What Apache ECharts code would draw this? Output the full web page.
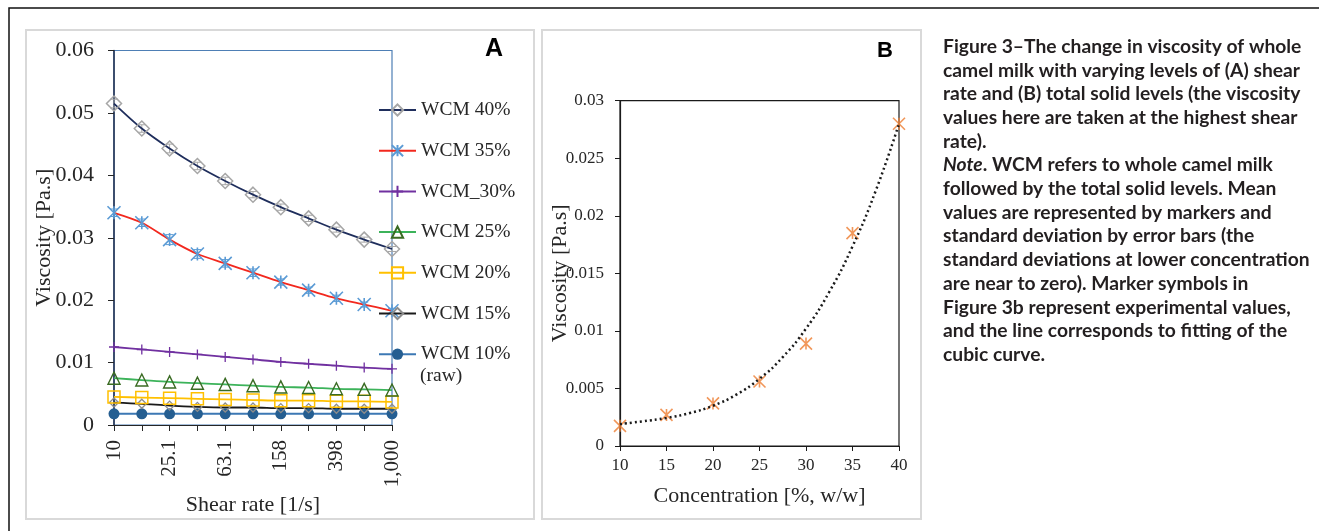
<!DOCTYPE html>
<html><head><meta charset="utf-8">
<script src="https://cdn.jsdelivr.net/npm/echarts@6/dist/echarts.min.js"></script>
<style>html,body{margin:0;padding:0;background:#fff}#c{width:1319px;height:531px}</style>
</head><body><div id="c"></div>
<script>
// ---------- Panel A data ----------
const shearRates = ['10','15.8','25.1','39.8','63.1','100','158','251','398','631','1,000'];
const wcm40 = [0.0515, 0.0475, 0.0443, 0.0415, 0.0391, 0.0369, 0.0349, 0.0331, 0.0313, 0.0297, 0.0282];
const wcm35 = [0.0340, 0.0324, 0.0297, 0.0274, 0.0259, 0.0244, 0.0229, 0.0216, 0.0203, 0.0193, 0.0183];
const wcm30 = [0.0125, 0.0121, 0.0117, 0.0113, 0.0109, 0.0105, 0.0101, 0.0098, 0.0095, 0.0092, 0.0090];
const wcm25 = [0.0075, 0.0072, 0.0069, 0.0067, 0.0065, 0.0063, 0.0061, 0.0060, 0.0058, 0.0057, 0.0056];
const wcm20 = [0.0045, 0.0044, 0.0043, 0.0042, 0.0041, 0.0040, 0.0039, 0.0039, 0.0038, 0.0038, 0.0037];
const wcm15 = [0.0036, 0.0034, 0.0031, 0.0029, 0.0028, 0.0028, 0.0027, 0.0027, 0.0026, 0.0026, 0.0026];
const wcm10 = [0.0018, 0.0018, 0.0018, 0.0018, 0.0018, 0.0018, 0.0018, 0.0018, 0.0018, 0.0018, 0.0018];
const sd40 = [0.0007, 0.0006, 0.0007, 0.0006, 0.0006, 0.0005, 0.0005, 0.0005, 0.0004, 0.0004, 0.0004];
const sd35 = [0.0006, 0.0006, 0.0008, 0.0007, 0.0006, 0.0006, 0.0005, 0.0005, 0.0005, 0.0004, 0.0004];
const seriesNamesA = ['WCM 40%', 'WCM 35%', 'WCM_30%', 'WCM 25%', 'WCM 20%', 'WCM 15%', 'WCM 10%'];
const yTicksA = { min: 0, max: 0.06, step: 0.01 };

// ---------- Panel B data ----------
const concentration = [10, 15, 20, 25, 30, 35, 40];
const viscosityB = [0.00175, 0.0027, 0.0037, 0.0056, 0.0089, 0.0185, 0.0280];
const fitConc = [10, 12.5, 15, 17.5, 20, 22.5, 25, 27.5, 30, 32.5, 35, 37.5, 40];
const fitVisc = [0.00190, 0.00215, 0.00244, 0.00286, 0.00350, 0.00446, 0.00584, 0.00772, 0.01020, 0.01338, 0.01734, 0.02218, 0.02800];

// ---------- Caption ----------
const captionLines = [
  'Figure 3\u2013The change in viscosity of whole',
  'camel milk with varying levels of (A) shear',
  'rate and (B) total solid levels (the viscosity',
  'values here are taken at the highest shear',
  'rate).',
  '{i|Note}. WCM refers to whole camel milk',
  'followed by the total solid levels. Mean',
  'values are represented by markers and',
  'standard deviation by error bars (the',
  'standard deviations at lower concentration',
  'are near to zero). Marker symbols in',
  'Figure 3b represent experimental values,',
  'and the line corresponds to fitting of the',
  'cubic curve.'
];

const serif = 'Liberation Serif, Times New Roman, serif';
const capFamily = 'Lato, "Noto Sans", sans-serif';
const capSize = 18.5;
const textCol = '#262626';
const ASTER = 'path://M0,0L12,12M12,0L0,12M6,0L6,12';
const PLUS = 'path://M6,0L6,12M0,6L12,6';

// horizontal squeeze so caption lines match the reference's condensed face
const measureCtx = document.createElement('canvas').getContext('2d');
measureCtx.font = 'bold ' + capSize + 'px ' + capFamily;
const capScaleX = 357 / measureCtx.measureText(captionLines[1]).width;

function lineSeries(name, data, lineColor, symbol, size, itemStyle) {
  return {
    name, type: 'line', xAxisIndex: 0, yAxisIndex: 0, data,
    symbol, symbolSize: size, showSymbol: true, smooth: 0.3,
    lineStyle: { color: lineColor, width: 1.8 },
    itemStyle, emphasis: { disabled: true }
  };
}
function errSeries(means, sds, color) {
  return {
    type: 'custom', xAxisIndex: 0, yAxisIndex: 0, z: 3,
    data: means.map((m, i) => [i, m, sds[i]]),
    encode: { x: 0, y: 1 },
    renderItem: function (params, api) {
      const x = api.value(0), m = api.value(1), s = api.value(2);
      const hi = api.coord([x, m + s]), lo = api.coord([x, m - s]);
      const w = 4, st = { stroke: color, lineWidth: 1 };
      return { type: 'group', children: [
        { type: 'line', shape: { x1: hi[0], y1: hi[1], x2: lo[0], y2: lo[1] }, style: st },
        { type: 'line', shape: { x1: hi[0] - w, y1: hi[1], x2: hi[0] + w, y2: hi[1] }, style: st },
        { type: 'line', shape: { x1: lo[0] - w, y1: lo[1], x2: lo[0] + w, y2: lo[1] }, style: st }
      ]};
    }
  };
}

const chart = echarts.init(document.getElementById('c'), null, { renderer: 'canvas' });
const option = {
  animation: false,
  backgroundColor: '#fff',
  textStyle: { fontFamily: serif },
  graphic: [
    { type: 'rect', z: -10, shape: { x: 9, y: 8, width: 1400, height: 600 }, style: { fill: 'none', stroke: '#111', lineWidth: 1.5 } },
    { type: 'rect', z: -9, shape: { x: 26, y: 30, width: 508, height: 489 }, style: { fill: 'none', stroke: '#D9D9D9', lineWidth: 2 } },
    { type: 'rect', z: -9, shape: { x: 542, y: 30, width: 379, height: 489 }, style: { fill: 'none', stroke: '#D9D9D9', lineWidth: 2 } },
    { type: 'text', x: 494, y: 49, style: { text: 'A', font: 'bold 25px Liberation Sans, Arial, sans-serif', fill: '#000', align: 'center', verticalAlign: 'middle' } },
    { type: 'text', x: 885, y: 50.5, style: { text: 'B', font: 'bold 22px Liberation Sans, Arial, sans-serif', fill: '#000', align: 'center', verticalAlign: 'middle' } },
    { type: 'text', x: 420, y: 376, style: { text: '(raw)', font: '19.5px ' + serif, fill: textCol, align: 'left', verticalAlign: 'middle' } },
    { type: 'text', x: 943, y: 35, scaleX: capScaleX, style: {
        text: captionLines.join('\n'),
        font: 'bold ' + capSize + 'px ' + capFamily,
        fill: '#231F20', lineHeight: 23.7,
        rich: { i: { fontStyle: 'italic', fontWeight: 'bold', fontSize: capSize, fontFamily: capFamily, lineHeight: 23.7, fill: '#231F20' } }
    } }
  ],
  legend: {
    data: seriesNamesA,
    orient: 'vertical', left: 378, top: 98, padding: 0,
    itemWidth: 37, itemHeight: 14, itemGap: 16.7,
    textStyle: { fontFamily: serif, fontSize: 19.5, color: textCol, lineHeight: 24 },
    selectedMode: false
  },
  grid: [
    { left: 114, top: 50.5, width: 278, height: 374.5, show: true, borderColor: '#4E7FB5', borderWidth: 1.2, backgroundColor: 'transparent' },
    { left: 620, top: 100.7, width: 279, height: 345.3, show: true, borderColor: '#1a1a1a', borderWidth: 1.2, backgroundColor: 'transparent' }
  ],
  xAxis: [
    { type: 'category', gridIndex: 0, data: shearRates, boundaryGap: false,
      axisLine: { show: true, lineStyle: { color: '#262626', width: 1.2 } },
      axisTick: { show: true, interval: 0, length: 6, lineStyle: { color: '#262626' } },
      axisLabel: { interval: 1, rotate: 90, margin: 15, fontSize: 21, color: textCol, fontFamily: serif },
      splitLine: { show: false },
      name: 'Shear rate [1/s]', nameLocation: 'middle', nameGap: 69, nameMoveOverlap: false,
      nameTextStyle: { fontSize: 22, color: textCol, fontFamily: serif } },
    { type: 'value', gridIndex: 1, min: 10, max: 40, interval: 5,
      axisLine: { show: true, lineStyle: { color: '#1a1a1a', width: 1.2 } },
      axisTick: { show: true, length: 5, lineStyle: { color: '#1a1a1a' } },
      axisLabel: { margin: 11, fontSize: 17, color: textCol, fontFamily: serif },
      splitLine: { show: false },
      name: 'Concentration [%, w/w]', nameLocation: 'middle', nameGap: 39, nameMoveOverlap: false,
      nameTextStyle: { fontSize: 22, color: textCol, fontFamily: serif } }
  ],
  yAxis: [
    { type: 'value', gridIndex: 0, min: yTicksA.min, max: yTicksA.max, interval: yTicksA.step,
      axisLine: { show: true, lineStyle: { color: '#1F2D4D', width: 1.5 } },
      axisTick: { show: true, length: 6, lineStyle: { color: '#262626' } },
      axisLabel: { margin: 20, fontSize: 22, color: textCol, fontFamily: serif },
      splitLine: { show: false },
      name: 'Viscosity [Pa.s]', nameLocation: 'middle', nameGap: 59, nameMoveOverlap: false,
      nameTextStyle: { fontSize: 22, color: textCol, fontFamily: serif } },
    { type: 'value', gridIndex: 1, min: 0, max: 0.03, interval: 0.005,
      axisLine: { show: true, lineStyle: { color: '#1a1a1a', width: 1.2 } },
      axisTick: { show: true, length: 5, lineStyle: { color: '#1a1a1a' } },
      axisLabel: { margin: 16, fontSize: 17, color: textCol, fontFamily: serif },
      splitLine: { show: false },
      name: 'Viscosity [Pa.s]', nameLocation: 'middle', nameGap: 49, nameMoveOverlap: false,
      nameTextStyle: { fontSize: 22, color: textCol, fontFamily: serif } }
  ],
  series: [
    lineSeries('WCM 10%', wcm10, '#3C78B4', 'circle', 11, { color: '#255E91' }),
    lineSeries('WCM 15%', wcm15, '#1A1A1A', 'diamond', 9, { color: 'rgba(255,255,255,0)', borderColor: '#8C8C8C', borderWidth: 1.3 }),
    lineSeries('WCM 20%', wcm20, '#FFC000', 'rect', 12, { color: 'rgba(255,255,255,0)', borderColor: '#FFC000', borderWidth: 1.5 }),
    lineSeries('WCM 25%', wcm25, '#3CB35A', 'triangle', 12, { color: 'rgba(255,255,255,0)', borderColor: '#3A6B23', borderWidth: 1.4 }),
    lineSeries('WCM_30%', wcm30, '#7030A0', PLUS, 10, { color: 'rgba(255,255,255,0)', borderColor: '#7030A0', borderWidth: 1.3 }),
    errSeries(wcm35, sd35, '#5B9BD5'),
    lineSeries('WCM 35%', wcm35, '#F2281E', ASTER, 13, { color: 'rgba(255,255,255,0)', borderColor: '#5B9BD5', borderWidth: 1.6 }),
    errSeries(wcm40, sd40, '#A6A6A6'),
    lineSeries('WCM 40%', wcm40, '#1F2E5C', 'diamond', 15, { color: 'rgba(255,255,255,0)', borderColor: '#A6A6A6', borderWidth: 1.5 }),
    { type: 'line', xAxisIndex: 1, yAxisIndex: 1, data: fitConc.map((c, i) => [c, fitVisc[i]]),
      smooth: true, showSymbol: false, symbol: 'none',
      lineStyle: { color: '#1a1a1a', width: 2.5, type: [2, 3] }, emphasis: { disabled: true } },
    { type: 'scatter', xAxisIndex: 1, yAxisIndex: 1, data: concentration.map((c, i) => [c, viscosityB[i]]),
      symbol: ASTER, symbolSize: 12,
      itemStyle: { color: 'rgba(255,255,255,0)', borderColor: '#ED7D31', borderWidth: 1.6 }, emphasis: { disabled: true } }
  ]
};
chart.setOption(option);
</script>
</body></html>
